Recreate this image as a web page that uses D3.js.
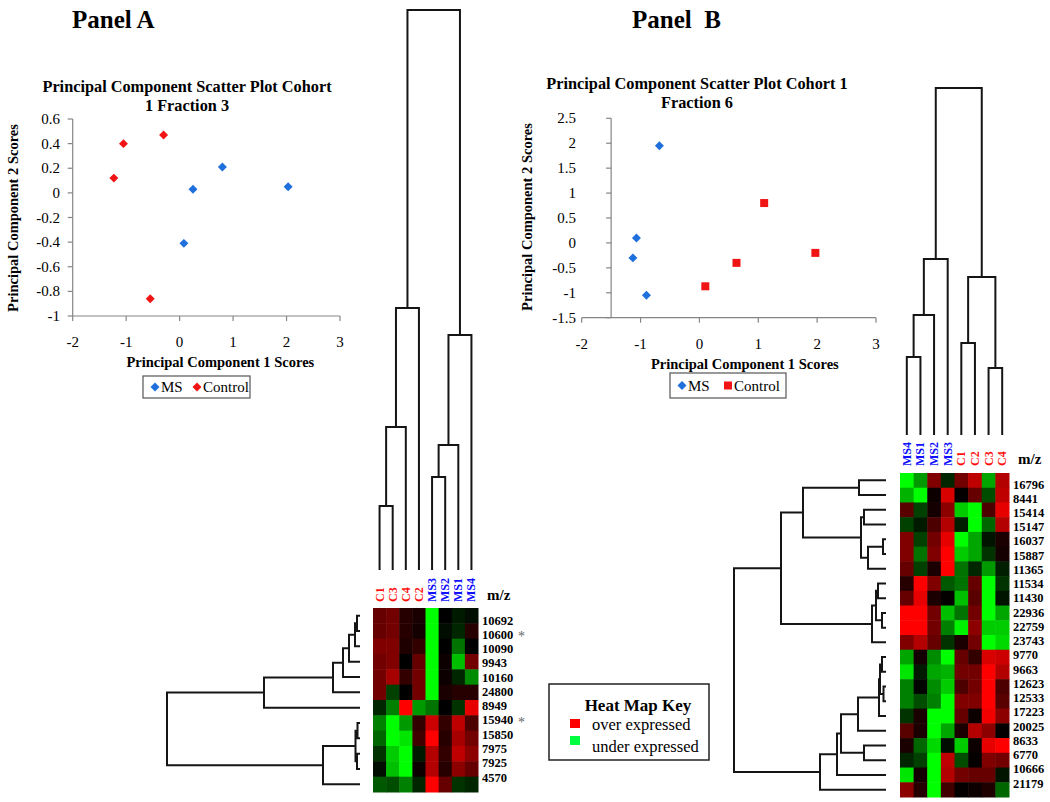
<!DOCTYPE html>
<html><head><meta charset="utf-8">
<script src="https://cdn.jsdelivr.net/npm/d3@7"></script>
<style>
body{margin:0;background:#fff}
svg{display:block}
text{font-family:"Liberation Serif","Times New Roman",serif;fill:#000}
</style>
</head><body>
<svg id="chart" width="1050" height="802"></svg>
<script>
// ---------------- DATA ----------------
const xTicks = [-2, -1, 0, 1, 2, 3];
const yTicksA = [-1, -0.8, -0.6, -0.4, -0.2, 0, 0.2, 0.4, 0.6];
const yTicksB = [-1.5, -1, -0.5, 0, 0.5, 1, 1.5, 2, 2.5];

const scatterA_MS = [[0.25, 0.03], [0.8, 0.21], [2.03, 0.05], [0.08, -0.41]];
const scatterA_Control = [[-1.05, 0.4], [-0.3, 0.47], [-1.23, 0.12], [-0.55, -0.86]];
const scatterB_MS = [[-0.68, 1.95], [-1.07, 0.1], [-1.13, -0.3], [-0.9, -1.05]];
const scatterB_Control = [[0.1, -0.87], [0.63, -0.4], [1.1, 0.8], [1.97, -0.2]];

const colsA = ["C1", "C3", "C4", "C2", "MS3", "MS2", "MS1", "MS4"];
const rowsA = ["10692", "10600", "10090", "9943", "10160", "24800", "8949", "15940", "15850", "7975", "7925", "4570"];
const starredA = ["10600", "15940"];
const heatA = [
  [0.4, 0.45, 0.15, 0.1, -1, 0, -0.1, -0.05],
  [0.4, 0.45, 0.15, 0.08, -1, -0.05, -0.15, 0.15],
  [0.5, 0.5, 0.12, 0.2, -1, 0, -0.45, 0],
  [0.45, 0.5, 0, 0.4, -1, 0.05, -0.75, 0.45],
  [0.45, 0.65, 0.2, 0.45, -1, 0.05, -0.15, -0.55],
  [0.45, -0.25, 0, 0.45, -1, 0.1, 0.15, 0.15],
  [-0.15, -0.5, 1, -0.6, -0.45, 0, -0.2, 0.9],
  [-0.5, -1, -0.6, 0.2, 0.8, 0.2, 0.75, 0.3],
  [-0.4, -1, -0.9, 0.25, 1, 0.15, 0.65, 0.45],
  [-0.2, -0.8, -1, -0.1, 0.7, 0.2, 0.75, 0.55],
  [-0.05, -0.75, -1, 0.05, 0.7, 0.15, 0.55, 0.4],
  [-0.35, -0.3, -0.5, -0.15, 1, 0.4, -0.2, -0.15]
];
// trees: [mergeHeight, left, right]; leaves are names
const colTreeA = [559, [261, [142, [63, "C1", "C3"], "C4"], "C2"], [234, [124, [92, "MS3", "MS2"], "MS1"], "MS4"]];
const rowTreeA = [192,
  [95, [26, [16, [10, [4, [2, "10692", "10600"], "10090"], "9943"], "10160"], "24800"], "8949"],
  [36, [3.5, [1.5, "15940", "15850"], [2, "7975", "7925"]], "4570"]];

const colsB = ["MS4", "MS1", "MS2", "MS3", "C1", "C2", "C3", "C4"];
const rowsB = ["16796", "8441", "15414", "15147", "16037", "15887", "11365", "11534", "11430", "22936", "22759",
  "23743", "9770", "9663", "12623", "12533", "17223", "20025", "8633", "6770", "10666", "21179"];
const heatB = [
  [-1, -0.6, 0.5, -0.15, 0.45, 0.75, -0.65, 0.7],
  [-0.7, -1, 0.05, 0.85, 0.02, 0.4, -0.3, 0.75],
  [0.35, -0.25, 0.08, 0.55, -0.8, -1, 0.3, 0.9],
  [-0.25, -0.1, 0.3, 0.7, -0.12, -1, -0.4, 0.7],
  [0.5, -0.25, 0.45, 0.9, -1, -0.65, -0.08, 0.1],
  [0.5, -0.45, 0.5, 1, -0.8, -0.65, -0.2, 0.08],
  [0.4, -0.25, 0.1, 1, -0.45, -0.15, -0.6, -0.12],
  [0.15, 1, 0.5, -0.35, -0.45, 0.4, -1, -0.2],
  [0.4, 0.9, 0.1, 0.02, -0.75, 0.35, -1, -0.08],
  [1, 1, 0.45, -0.75, -0.45, 0.45, -1, -0.65],
  [1, 1, 0.45, -0.5, -0.95, 0.55, -0.8, -0.8],
  [0.5, 0.7, 0.4, -0.2, 0.1, 0.45, -1, -0.85],
  [-0.65, 0.08, -0.55, -1, 0.4, 0.2, 0.85, 0.8],
  [-0.9, -0.1, -0.65, -0.7, 0.45, 0.45, 1, 0.7],
  [-0.5, -0.02, -0.55, -0.8, 0.3, 0.45, 1, 0.3],
  [-0.5, -0.3, -0.5, -1, 0.5, 0.5, 1, 0.35],
  [-0.2, 0.1, -1, -1, 0.4, 0.05, 0.95, 0.55],
  [0.35, 0.1, -1, -0.65, 0.1, 0.7, 0.55, 0.02],
  [0.1, -0.4, -0.85, -0.05, -0.8, 0.05, 0.9, 1],
  [-0.15, -0.25, -1, 0.75, -0.3, 0.02, 0.5, 0.45],
  [-0.9, 0.08, -1, 0.7, 0.45, 0.4, 0.4, -0.08],
  [0.55, 0.15, -1, 0.25, 0.02, 0.05, 0.12, -0.4]
];
const colTreeB = [346, [175, [119, [77, "MS4", "MS1"], "MS2"], "MS3"], [157, [91, "C1", "C2"], [66, "C3", "C4"]]];
const rowTreeB = [151,
  [104,
    [82, [26, "16796", "8441"], [24, [21, "15414", "15147"], [17, [2, "16037", "15887"], "11365"]]],
    [13, [9, [7, "11534", "11430"], [3, "22936", "22759"]], "23743"]],
  [65, [48, [44, [27, [6, [5, [3, "9770", "9663"], [1.5, "12623", "12533"]], "17223"], "20025"],
    [21, "8633", "6770"]], "10666"], "21179"]];

// ---------------- STYLE ----------------
const BLUE = "#1f6fdc", RED = "#f01414", AXIS = "#858585";
const heatColor = d3.scaleLinear().domain([-1, 0, 1]).range(["#00ff00", "#000000", "#ff0000"]);
const svg = d3.select("#chart");

// ---------------- SCATTER ----------------
function scatter(o) {
  const g = svg.append("g");
  const x = d3.scaleLinear().domain([-2, 3]).range(o.xr);
  const y = d3.scaleLinear().domain(o.yd).range(o.yr);
  const axisX = x(o.yAxisAt), baseY = y(o.yd[0]);
  g.append("line").attr("x1", x(-2)).attr("x2", x(3)).attr("y1", baseY).attr("y2", baseY)
    .attr("stroke", AXIS).attr("stroke-width", 1.2);
  g.append("line").attr("x1", axisX).attr("x2", axisX).attr("y1", y(o.yd[1])).attr("y2", baseY)
    .attr("stroke", AXIS).attr("stroke-width", 1.2);
  g.selectAll(".xt").data(xTicks).join("line").attr("x1", d => x(d)).attr("x2", d => x(d))
    .attr("y1", baseY).attr("y2", baseY + 5).attr("stroke", AXIS).attr("stroke-width", 1.2);
  g.selectAll(".yt").data(o.yTicks).join("line").attr("x1", axisX - 5).attr("x2", axisX)
    .attr("y1", d => y(d)).attr("y2", d => y(d)).attr("stroke", AXIS).attr("stroke-width", 1.2);
  g.selectAll(".xl").data(xTicks).join("text").attr("x", d => x(d)).attr("y", baseY + 31)
    .attr("text-anchor", "middle").style("font-size", "15px").text(d => String(d));
  g.selectAll(".yl").data(o.yTicks).join("text").attr("x", o.yLabelX).attr("y", d => y(d) + 5)
    .attr("text-anchor", "end").style("font-size", "15px").text(d => String(d));
  o.title.forEach((t, i) => g.append("text").attr("x", o.titleX).attr("y", o.titleY + i * 19)
    .attr("text-anchor", "middle").style("font-size", "16.3px").style("font-weight", "bold").text(t));
  g.append("text").attr("x", (x(-2) + x(3)) / 2 + o.xTitleDx).attr("y", baseY + 51).attr("text-anchor", "middle")
    .style("font-size", "14.5px").style("font-weight", "bold").text("Principal Component 1 Scores");
  g.append("text").attr("transform", `translate(${o.yTitleX},${o.yTitleY}) rotate(-90)`)
    .attr("text-anchor", "middle").attr("dy", "0.35em")
    .style("font-size", "14.5px").style("font-weight", "bold").text("Principal Component 2 Scores");
  const diamond = d3.symbol(d3.symbolSquare, 40)();
  const square = d3.symbol(d3.symbolSquare, 64)();
  g.selectAll(".ms").data(o.ms).join("path").attr("d", diamond).attr("fill", BLUE)
    .attr("transform", d => `translate(${x(d[0])},${y(d[1])}) rotate(45)`);
  g.selectAll(".ct").data(o.ctrl).join("path").attr("d", o.ctrlSquare ? square : diamond).attr("fill", RED)
    .attr("transform", d => `translate(${x(d[0])},${y(d[1])})` + (o.ctrlSquare ? "" : " rotate(45)"));
  const L = o.legend;
  g.append("rect").attr("x", L.x).attr("y", L.y).attr("width", L.w).attr("height", L.h)
    .attr("fill", "none").attr("stroke", "#555").attr("stroke-width", 1.2);
  const cy = L.y + L.h / 2;
  g.append("path").attr("d", diamond).attr("fill", BLUE).attr("transform", `translate(${L.x + 12},${cy}) rotate(45)`);
  g.append("text").attr("x", L.x + 18).attr("y", cy + 5).style("font-size", "15px").text("MS");
  g.append("path").attr("d", o.ctrlSquare ? square : diamond).attr("fill", RED)
    .attr("transform", `translate(${L.x + L.c},${cy})` + (o.ctrlSquare ? "" : " rotate(45)"));
  g.append("text").attr("x", L.x + L.c + 6).attr("y", cy + 5).style("font-size", "15px").text("Control");
}

scatter({
  xr: [72.7, 340], yd: [-1, 0.6], yr: [316, 119], yAxisAt: -2, yTicks: yTicksA, yLabelX: 60,
  title: ["Principal Component Scatter Plot Cohort", "1 Fraction 3"], titleX: 187, titleY: 92,
  xTitleDx: 14, yTitleX: 13, yTitleY: 218,
  ms: scatterA_MS, ctrl: scatterA_Control, ctrlSquare: false,
  legend: {x: 143, y: 376, w: 107, h: 22, c: 54}
});
scatter({
  xr: [581.7, 876], yd: [-1.5, 2.5], yr: [317.7, 118.3], yAxisAt: -1.5, yTicks: yTicksB, yLabelX: 576,
  title: ["Principal Component Scatter Plot Cohort 1", "Fraction 6"], titleX: 697, titleY: 89,
  xTitleDx: 16, yTitleX: 527, yTitleY: 217,
  ms: scatterB_MS, ctrl: scatterB_Control, ctrlSquare: true,
  legend: {x: 670, y: 373, w: 116, h: 25, c: 58}
});

svg.append("text").attr("x", 72).attr("y", 28).style("font-size", "25px").style("font-weight", "bold").text("Panel A");
svg.append("text").attr("x", 632).attr("y", 28).style("font-size", "25px").style("font-weight", "bold")
  .style("white-space", "pre").text("Panel  B");

// ---------------- DENDROGRAM + HEATMAP ----------------
function layout(node, pos) {
  if (typeof node === "string") return {p: pos(node), h: 0};
  const a = layout(node[1], pos), b = layout(node[2], pos);
  return {p: (a.p + b.p) / 2, h: node[0], kids: [a, b]};
}
function drawTree(root, hs, vertical) {
  const path = d3.path();
  const pt = (p, h) => vertical ? [p, hs(h)] : [hs(h), p];
  (function walk(n) {
    if (!n.kids) return;
    n.kids.forEach(k => {
      path.moveTo(...pt(k.p, k.h)); path.lineTo(...pt(k.p, n.h));
      walk(k);
    });
    path.moveTo(...pt(n.kids[0].p, n.h)); path.lineTo(...pt(n.kids[1].p, n.h));
  })(root);
  svg.append("path").attr("d", path.toString()).attr("fill", "none")
    .attr("stroke", "#151515").attr("stroke-width", 2).attr("stroke-linecap", "square");
}

function heatPanel(o) {
  const x = d3.scaleBand().domain(o.cols).range(o.xr);
  const y = d3.scaleBand().domain(o.rows).range(o.yr);
  const g = svg.append("g");
  o.heat.forEach((row, i) => {
    g.selectAll(null).data(row).join("rect")
      .attr("x", (d, j) => x(o.cols[j])).attr("y", y(o.rows[i]))
      .attr("width", x.bandwidth() + 0.5).attr("height", y.bandwidth() + 0.5)
      .attr("fill", d => heatColor(d));
  });
  g.selectAll(".cl").data(o.cols).join("text")
    .attr("transform", d => `translate(${x(d) + x.bandwidth() / 2 + 4},${o.colLabelY}) rotate(-90)`)
    .style("font-size", "12px").style("font-weight", "bold")
    .style("fill", d => d.startsWith("MS") ? "#1010ff" : "#ff1010").text(d => d);
  g.append("text").attr("x", o.xr[1] + o.mzDx).attr("y", o.colLabelY - 2)
    .style("font-size", "15px").style("font-weight", "bold").text("m/z");
  const ly = d3.scalePoint().domain(o.rows).range(o.labelRange);
  g.selectAll(".rl").data(o.rows).join("text").attr("x", o.xr[1] + 4).attr("y", d => ly(d) + 4.5)
    .style("font-size", "12.5px").style("font-weight", "bold").text(d => d);
  if (o.starred) g.selectAll(".st").data(o.starred).join("text").attr("x", o.xr[1] + 40).attr("y", d => ly(d) + 7)
    .style("font-size", "14px").style("fill", "#666").text("*");
  const colRoot = layout(o.colTree, d => x(d) + x.bandwidth() / 2);
  drawTree(colRoot, d3.scaleLinear().domain([0, o.colTree[0]]).range(o.colDendro), true);
  const rowRoot = layout(o.rowTree, d => y(d) + y.bandwidth() / 2);
  drawTree(rowRoot, d3.scaleLinear().domain([0, o.rowTree[0]]).range(o.rowDendro), false);
}

heatPanel({
  cols: colsA, rows: rowsA, heat: heatA, xr: [373, 478], yr: [608, 792], colLabelY: 602, mzDx: 9,
  labelRange: [620, 777], starred: starredA,
  colTree: colTreeA, colDendro: [569, 10], rowTree: rowTreeA, rowDendro: [359, 167]
});
heatPanel({
  cols: colsB, rows: rowsB, heat: heatB, xr: [900, 1009], yr: [473, 797], colLabelY: 466, mzDx: 9,
  labelRange: [484, 783], starred: null,
  colTree: colTreeB, colDendro: [434, 88], rowTree: rowTreeB, rowDendro: [885, 734]
});

// ---------------- HEAT MAP KEY ----------------
const keyItems = [["over expressed", 1], ["under expressed", -1]];
const key = svg.append("g");
key.append("rect").attr("x", 549).attr("y", 684).attr("width", 160).attr("height", 76)
  .attr("fill", "#fff").attr("stroke", "#222").attr("stroke-width", 1.5);
key.append("text").attr("x", 638).attr("y", 711).attr("text-anchor", "middle")
  .style("font-size", "17px").style("font-weight", "bold").text("Heat Map Key");
key.selectAll(".ki").data(keyItems).join("rect").attr("x", 570).attr("y", (d, i) => 719 + i * 17)
  .attr("width", 10).attr("height", 9).attr("fill", d => d[1] > 0 ? "#ff0000" : "#00ff40");
key.selectAll(".kt").data(keyItems).join("text").attr("x", 592).attr("y", (d, i) => 730 + i * 22)
  .style("font-size", "16.5px").text(d => d[0]);
</script>
</body></html>
